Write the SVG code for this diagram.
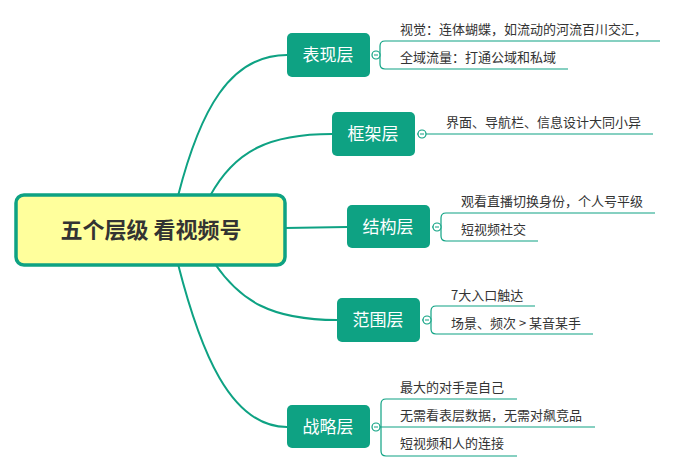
<svg xmlns="http://www.w3.org/2000/svg" width="676" height="471" viewBox="0 0 676 471">
<style>
.n{fill:#0ea283;}
.nt{fill:#fff;font-family:"Noto Sans CJK SC",sans-serif;font-size:17px;text-anchor:middle;}
.t{fill:#333;font-family:"Noto Sans CJK SC",sans-serif;font-size:13px;}
.c{fill:none;stroke:#0ea283;stroke-width:2;}
.l{fill:none;stroke:#0ea283;stroke-width:1.2;}
.o{fill:#fff;stroke:#0ea283;stroke-width:1.2;}
</style>
<rect width="676" height="471" fill="#fff"/>
<g id="connectors">
<path class="c" d="M178,196 C200,110 230,55 287,55"/>
<path class="c" d="M210,196 C235,150 270,134 332,134"/>
<path class="c" d="M285,228 L347,227"/>
<path class="c" d="M215,264 C240,300 270,320 337,320"/>
<path class="c" d="M178,264 C200,350 230,427 287,427"/>
</g>
<g id="root">
<rect x="16" y="195" width="269" height="70" rx="8" fill="#ffff9c" stroke="#0ea283" stroke-width="3.5"/>
<text x="151" y="238" font-family="'Noto Sans CJK SC',sans-serif" font-size="22" font-weight="bold" fill="#333" text-anchor="middle">五个层级 看视频号</text>
</g>
<g id="n1">
<rect class="n" x="287" y="33" width="83" height="44" rx="5"/>
<text class="nt" x="328" y="61">表现层</text>
<path class="l" d="M380,55 H372 M660,41 H385 Q380,41 380,46 V64 Q380,69 385,69 H568"/>
<circle class="o" cx="376" cy="55" r="4"/><path d="M374,55h4" stroke="#0ea283"/>
<text class="t" x="400" y="34">视觉：连体蝴蝶，如流动的河流百川交汇，</text>
<text class="t" x="400" y="62">全域流量：打通公域和私域</text>
</g>
<g id="n2">
<rect class="n" x="332" y="112" width="83" height="44" rx="5"/>
<text class="nt" x="373" y="140">框架层</text>
<path class="l" d="M417,134 H653"/>
<circle class="o" cx="422" cy="134" r="4"/><path d="M420,134h4" stroke="#0ea283"/>
<text class="t" x="446" y="127">界面、导航栏、信息设计大同小异</text>
</g>
<g id="n3">
<rect class="n" x="347" y="205" width="83" height="43" rx="5"/>
<text class="nt" x="388" y="233">结构层</text>
<path class="l" d="M441,227 H432 M655,213 H446 Q441,213 441,218 V236 Q441,241 446,241 H538"/>
<circle class="o" cx="437" cy="227" r="4"/><path d="M435,227h4" stroke="#0ea283"/>
<text class="t" x="461" y="206">观看直播切换身份，个人号平级</text>
<text class="t" x="461" y="234">短视频社交</text>
</g>
<g id="n4">
<rect class="n" x="337" y="298" width="83" height="44" rx="5"/>
<text class="nt" x="378" y="326">范围层</text>
<path class="l" d="M431,320 H422 M535,306 H436 Q431,306 431,311 V329 Q431,334 436,334 H593"/>
<circle class="o" cx="427" cy="320" r="4"/><path d="M425,320h4" stroke="#0ea283"/>
<text class="t" x="451" y="300">7大入口触达</text>
<text class="t" x="451" y="328">场景、频次 &gt; 某音某手</text>
</g>
<g id="n5">
<rect class="n" x="287" y="405" width="83" height="43" rx="5"/>
<text class="nt" x="328" y="433">战略层</text>
<path class="l" d="M381,427 H372 M517,399 H386 Q381,399 381,404 V451 Q381,456 386,456 H517 M381,427 H595"/>
<circle class="o" cx="376" cy="427" r="4"/><path d="M374,427h4" stroke="#0ea283"/>
<text class="t" x="400" y="392">最大的对手是自己</text>
<text class="t" x="400" y="420">无需看表层数据，无需对飙竞品</text>
<text class="t" x="400" y="448">短视频和人的连接</text>
</g>
</svg>
